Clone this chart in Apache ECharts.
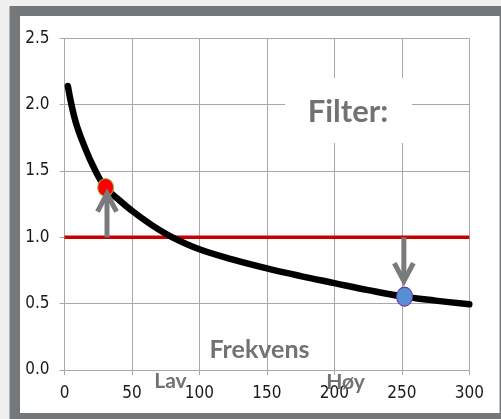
<!DOCTYPE html>
<html>
<head>
<meta charset="utf-8">
<script src="https://cdn.jsdelivr.net/npm/echarts@6/dist/echarts.min.js"></script>
<style>
html,body{margin:0;padding:0;background:#f0f0f0;}
#c{width:501px;height:419px;}
</style>
</head>
<body>
<div id="c"></div>
<script>
// ---- data ----
const freqX = [2.5, 8, 15, 22, 30, 40, 50, 65, 80, 100, 125, 150, 175, 200, 225, 250, 275, 300];
const responseY = [2.14, 1.88, 1.68, 1.52, 1.38, 1.285, 1.20, 1.09, 1.00, 0.91, 0.832, 0.766, 0.708, 0.655, 0.602, 0.555, 0.523, 0.495];
const thresholdX = [0, 300];
const thresholdY = [1.0, 1.0];
const redPoint = [30.5, 1.375];
const bluePoint = [252, 0.553];
// arrows: [x, fromY, toY]
const arrows = [[31.5, 1.0, 1.36], [251.5, 1.0, 0.64]];
const xTicks = [0, 50, 100, 150, 200, 250, 300];
const yTicks = [0.0, 0.5, 1.0, 1.5, 2.0, 2.5];
const titleText = 'Filter:';
const axisTitle = 'Frekvens';
const lowText = 'Lav';
const highText = 'Høy';

const chart = echarts.init(document.getElementById('c'));
const gridColor = '#a8a8a8';
const labelFont = "'Liberation Sans Narrow','DejaVu Sans Condensed',sans-serif";
const boldFont = "Lato, 'Open Sans', sans-serif";
const textGray = '#717274';
const arrowGray = '#787a7c';
const ellipse = 'path://M0,10A10,10 0 1,1 20,10A10,10 0 1,1 0,10Z';

chart.setOption({
  animation: false,
  backgroundColor: '#f0f0f0',
  grid: {left: 64.5, right: 31.7, top: 38.3, bottom: 49, containLabel: false},
  xAxis: {
    type: 'value', min: xTicks[0], max: xTicks[xTicks.length - 1], interval: 50,
    axisLine: {show: true, lineStyle: {color: gridColor, width: 1}},
    axisTick: {show: true, length: 5, lineStyle: {color: gridColor}},
    splitLine: {show: true, lineStyle: {color: gridColor, width: 1}},
    axisLabel: {color: '#1a1a1a', fontSize: 17, fontFamily: labelFont, margin: 15}
  },
  yAxis: {
    type: 'value', min: yTicks[0], max: yTicks[yTicks.length - 1], interval: 0.5,
    axisLine: {show: true, lineStyle: {color: gridColor, width: 1}},
    axisTick: {show: true, length: 5, lineStyle: {color: gridColor}},
    splitLine: {show: true, lineStyle: {color: gridColor, width: 1}},
    axisLabel: {color: '#1a1a1a', fontSize: 17, fontFamily: labelFont, margin: 15,
      formatter: v => v.toFixed(1)}
  },
  graphic: [
    {type: 'rect', z: -10, silent: true, shape: {x: 9.5, y: 6, width: 495, height: 420}, style: {fill: '#75787b'}},
    {type: 'rect', z: -9, silent: true, shape: {x: 20, y: 16, width: 479, height: 397}, style: {fill: '#ffffff'}},
    {type: 'rect', z: -9, silent: true, shape: {x: 499, y: 16, width: 1, height: 397}, style: {fill: '#c4c4c4'}},
    {type: 'rect', z: 50, silent: true, shape: {x: 285, y: 78, width: 127, height: 65}, style: {fill: '#ffffff'}},
    {type: 'text', z: 51, silent: true, x: 348, y: 112,
      style: {text: titleText, font: 'bold 31px ' + boldFont, fill: textGray, align: 'center', verticalAlign: 'middle'}},
    {type: 'text', z: 51, silent: true, x: 259.5, y: 350,
      style: {text: axisTitle, font: 'bold 25px ' + boldFont, fill: textGray, align: 'center', verticalAlign: 'middle'}},
    {type: 'text', z: 51, silent: true, x: 170.5, y: 381,
      style: {text: lowText, font: 'bold 21px ' + boldFont, fill: textGray, align: 'center', verticalAlign: 'middle'}},
    {type: 'text', z: 51, silent: true, x: 345.5, y: 382,
      style: {text: highText, font: 'bold 21px ' + boldFont, fill: textGray, align: 'center', verticalAlign: 'middle'}}
  ],
  series: [
    {
      type: 'line', data: thresholdX.map((x, i) => [x, thresholdY[i]]),
      showSymbol: false, symbol: 'none', z: 2,
      lineStyle: {color: '#c80000', width: 3.5}
    },
    {
      type: 'line', data: freqX.map((x, i) => [x, responseY[i]]),
      smooth: 0.4, showSymbol: false, symbol: 'none', z: 3,
      lineStyle: {color: '#000000', width: 6.5, cap: 'round', join: 'round'}
    },
    {
      type: 'scatter', data: [redPoint], symbol: ellipse, symbolSize: [16, 18], z: 4,
      itemStyle: {color: '#ff0000', borderColor: '#9bbb59', borderWidth: 1, opacity: 1}
    },
    {
      type: 'scatter', data: [bluePoint], symbol: ellipse, symbolSize: [16, 19], z: 4,
      itemStyle: {color: '#558ed5', borderColor: '#7030a0', borderWidth: 1, opacity: 1}
    },
    {
      type: 'custom', z: 5, data: arrows,
      renderItem: function (params, api) {
        const p0 = api.coord([api.value(0), api.value(1)]);
        const p1 = api.coord([api.value(0), api.value(2)]);
        const dir = p1[1] > p0[1] ? 1 : -1;
        const tip = [p1[0], p1[1] - dir * 4];
        const style = {stroke: arrowGray, lineWidth: 5, fill: null, lineJoin: 'miter'};
        return {
          type: 'group',
          children: [
            {type: 'line', shape: {x1: p0[0], y1: p0[1], x2: tip[0], y2: tip[1]}, style: style},
            {type: 'polyline', shape: {points: [[tip[0] - 9.5, tip[1] - dir * 18], tip, [tip[0] + 9.5, tip[1] - dir * 18]]}, style: style}
          ]
        };
      }
    }
  ]
});
</script>
</body>
</html>
